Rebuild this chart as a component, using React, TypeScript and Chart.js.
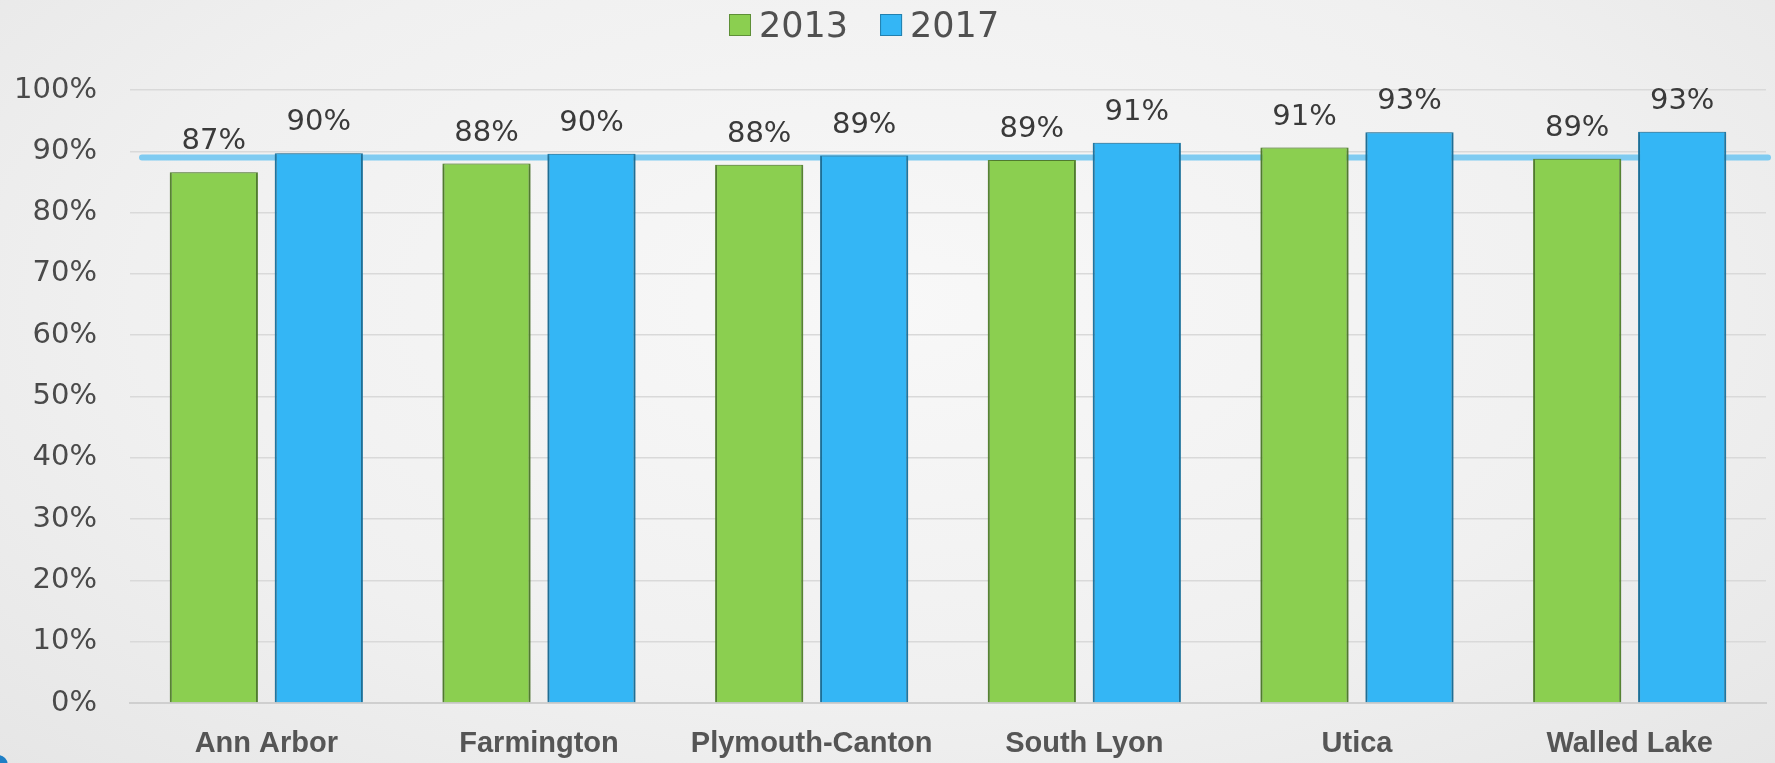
import React, { useEffect, useRef } from "react";
import { Chart, registerables } from "chart.js";

Chart.register(...registerables);

const categories = ["Ann Arbor", "Farmington", "Plymouth-Canton", "South Lyon", "Utica", "Walled Lake"];
const seriesLabels = ["2013", "2017"];
const values2013 = [86.6, 88.0, 87.8, 88.6, 90.6, 88.8];
const values2017 = [89.7, 89.6, 89.3, 91.4, 93.1, 93.2];
const referenceValue = 89;
const yMin = 0;
const yMax = 100;
const yStep = 10;

const GREEN = "#8BCF50";
const BLUE = "#34B6F5";

export default function App() {
  const ref = useRef<HTMLCanvasElement | null>(null);

  useEffect(() => {
    document.body.style.margin = "0";
    const canvas = ref.current;
    if (!canvas) return;

    const refLinePlugin = {
      id: "refLine",
      beforeDatasetsDraw(chart: any) {
        const { ctx, chartArea, scales } = chart;
        const y = scales.y.getPixelForValue(referenceValue);
        ctx.save();
        ctx.strokeStyle = "#7FCBF1";
        ctx.lineWidth = 6;
        ctx.lineCap = "round";
        ctx.beginPath();
        ctx.moveTo(chartArea.left + 12, y);
        ctx.lineTo(chartArea.right + 2, y);
        ctx.stroke();
        ctx.restore();
        ctx.save();
        ctx.shadowColor = "rgba(0,0,0,0.35)";
        ctx.shadowBlur = 4;
      },
      afterDatasetsDraw(chart: any) {
        chart.ctx.restore();
      },
    };

    const labelsPlugin = {
      id: "valueLabels",
      afterDatasetsDraw(chart: any) {
        const { ctx } = chart;
        ctx.save();
        ctx.font = "29px 'DejaVu Sans'";
        ctx.fillStyle = "#3A3A3A";
        ctx.textAlign = "center";
        ctx.textBaseline = "alphabetic";
        chart.data.datasets.forEach((ds: any, i: number) => {
          const meta = chart.getDatasetMeta(i);
          meta.data.forEach((bar: any, j: number) => {
            ctx.fillText(Math.round(ds.data[j]) + "%", bar.x, bar.y - 23);
          });
        });
        ctx.restore();
      },
    };

    const legendPlugin = {
      id: "customLegend",
      afterDraw(chart: any) {
        const { ctx } = chart;
        ctx.save();
        ctx.font = "35px 'DejaVu Sans'";
        ctx.textBaseline = "alphabetic";
        ctx.textAlign = "left";
        let x = 729;
        chart.data.datasets.forEach((ds: any) => {
          ctx.fillStyle = ds.backgroundColor;
          ctx.strokeStyle = ds.borderColor;
          ctx.lineWidth = 1;
          ctx.fillRect(x, 14, 22, 22);
          ctx.strokeRect(x + 0.5, 14.5, 21, 21);
          ctx.fillStyle = "#505050";
          ctx.fillText(ds.label, x + 30, 37);
          x += 30 + ctx.measureText(ds.label).width + 32;
        });
        ctx.restore();
      },
    };

    const chart = new Chart(canvas, {
      type: "bar",
      data: {
        labels: categories,
        datasets: [
          {
            label: seriesLabels[0],
            data: values2013,
            backgroundColor: GREEN,
            borderColor: "#5E8F37",
            borderWidth: { left: 2, right: 2, top: 1, bottom: 0 },
            borderSkipped: "bottom",
            categoryPercentage: 0.77,
            barPercentage: 0.84,
          },
          {
            label: seriesLabels[1],
            data: values2017,
            backgroundColor: BLUE,
            borderColor: "#2380AE",
            borderWidth: { left: 2, right: 2, top: 1, bottom: 0 },
            borderSkipped: "bottom",
            categoryPercentage: 0.77,
            barPercentage: 0.84,
          },
        ],
      },
      options: {
        responsive: false,
        animation: false,
        layout: { padding: { top: 90, right: 9, left: 0, bottom: 0 } },
        plugins: {
          legend: { display: false },
          tooltip: { enabled: false },
        },
        scales: {
          x: {
            grid: { display: false, drawTicks: false },
            border: { display: true, color: "#CFCFCF", width: 2 },
            ticks: {
              padding: 24,
              color: "#555555",
              font: { family: "'Liberation Sans', Arial, sans-serif", size: 29, weight: "bold" },
            },
            afterFit(scale: any) {
              scale.height = 60;
            },
          },
          y: {
            min: yMin,
            max: yMax,
            ticks: {
              stepSize: yStep,
              padding: 33,
              color: "#4A4A4A",
              font: { family: "'DejaVu Sans', sans-serif", size: 29 },
              callback: (v: any) => v + "%",
            },
            grid: { color: "#D9D9D9", lineWidth: 1.5, drawTicks: false },
            border: { display: false },
            afterFit(scale: any) {
              scale.width = 130;
            },
          },
        },
      },
      plugins: [refLinePlugin, labelsPlugin, legendPlugin],
    } as any);

    return () => chart.destroy();
  }, []);

  return (
    <div
      style={{
        position: "relative",
        width: 1775,
        height: 763,
        overflow: "hidden",
        background: "radial-gradient(ellipse at 50% 40%, #F8F8F8 0%, #F0F0F0 60%, #E6E6E6 100%)",
      }}
    >
      <canvas ref={ref} width={1775} height={763} style={{ display: "block" }} />
      <div
        style={{
          position: "absolute",
          left: -12,
          bottom: -12,
          width: 20,
          height: 20,
          borderRadius: 10,
          background: "#1F7FC5",
        }}
      />
    </div>
  );
}
